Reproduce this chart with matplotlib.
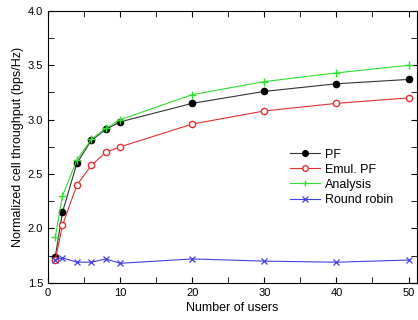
import matplotlib
matplotlib.use('Agg')
from matplotlib import pyplot as plt
from matplotlib.ticker import MultipleLocator

plt.rcParams['font.family'] = ['Liberation Sans', 'DejaVu Sans']

users = [1, 2, 4, 6, 8, 10, 20, 30, 40, 50]
pf = [1.74, 2.15, 2.60, 2.81, 2.91, 2.98, 3.15, 3.26, 3.33, 3.37]
emul_pf = [1.71, 2.03, 2.40, 2.58, 2.70, 2.75, 2.96, 3.08, 3.15, 3.20]
analysis = [1.92, 2.30, 2.63, 2.82, 2.92, 3.00, 3.23, 3.35, 3.43, 3.50]
round_robin = [1.71, 1.73, 1.69, 1.69, 1.72, 1.68, 1.72, 1.70, 1.69, 1.71]

fig = plt.figure(figsize=(4.18, 3.2), dpi=100)
ax = fig.add_axes([0.115, 0.116, 0.883, 0.85])

ax.plot(users, pf, '-', color='#333333', lw=0.8, marker='o', ms=4.5,
        mfc='black', mec='black', label='PF')
ax.plot(users, emul_pf, '-', color='#e03030', lw=0.8, marker='o', ms=4.5,
        mfc='white', mec='#e03030', label='Emul. PF')
ax.plot(users, analysis, '-', color='#33dd33', lw=0.8, marker='+', ms=5.5,
        mew=1.0, label='Analysis')
ax.plot(users, round_robin, '-', color='#4040e0', lw=0.8, marker='x', ms=4.5,
        mew=0.9, label='Round robin')

ax.set_xlim(0, 51.2)
ax.set_ylim(1.5, 4.0)
ax.xaxis.set_major_locator(MultipleLocator(10))
ax.xaxis.set_minor_locator(MultipleLocator(5))
ax.yaxis.set_major_locator(MultipleLocator(0.5))
ax.yaxis.set_minor_locator(MultipleLocator(0.25))
ax.tick_params(which='both', direction='in', top=True, right=True, labelsize=8)
ax.tick_params(which='major', length=4)
ax.tick_params(which='minor', length=4)
ax.yaxis.set_major_formatter(plt.FormatStrFormatter('%.1f'))
for s in ax.spines.values():
    s.set_linewidth(0.8)

ax.set_xlabel('Number of users', fontsize=9, labelpad=3)
ax.set_ylabel('Normalized cell throughput (bps/Hz)', fontsize=9, labelpad=3)

ax.legend(loc='upper left', bbox_to_anchor=(0.625, 0.535), frameon=False,
          fontsize=9, handlelength=2.4, handletextpad=0.4, labelspacing=0.25,
          markerscale=0.9)

fig.savefig('out.png', dpi=100)
